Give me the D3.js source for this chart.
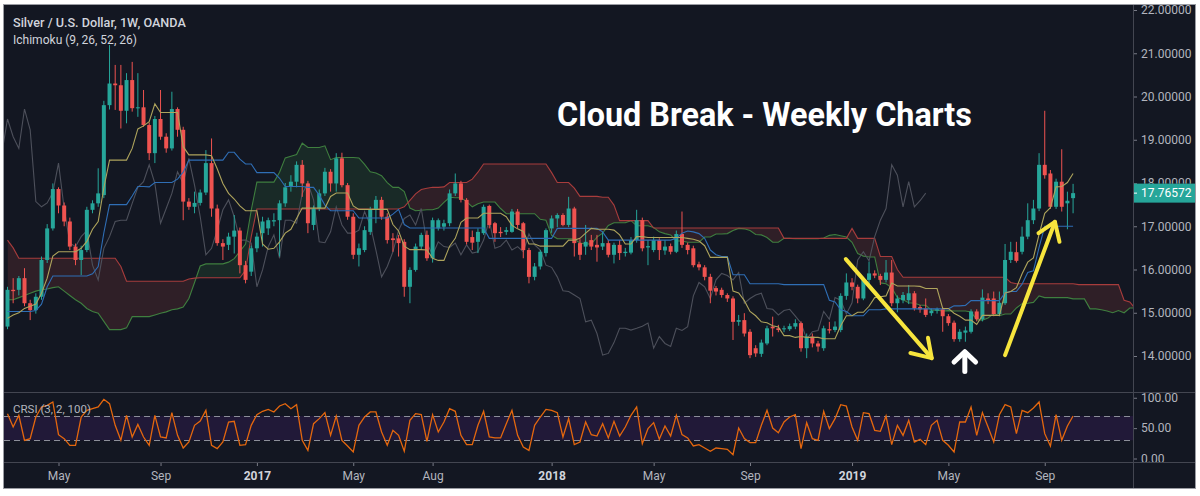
<!DOCTYPE html>
<html><head><meta charset="utf-8">
<script src="https://cdn.jsdelivr.net/npm/d3@7"></script>
<style>
html,body{margin:0;padding:0;background:#ffffff;}
svg{display:block;}
text{font-family:Roboto,"Noto Sans",sans-serif;}
</style></head>
<body>
<svg id="chart" width="1200" height="496"></svg>
<script>
// ---------------- data (weekly bars, Silver / USD, OANDA) ----------------
const firstWeek = "2016-02-29";
const open = [14.68,15.53,15.53,15.80,15.22,15.06,15.37,16.22,16.95,17.86,
17.48,17.11,16.53,16.22,16.45,17.38,17.53,17.72,19.80,20.30,
20.26,19.67,20.38,19.73,19.75,19.34,18.69,19.48,19.07,18.80,
19.71,19.23,17.57,17.45,17.54,17.78,18.46,17.41,16.61,16.57,
16.76,16.90,16.10,15.95,16.49,16.84,16.95,17.11,17.14,17.53,
17.92,18.03,18.42,17.99,17.03,17.41,17.76,18.26,17.99,18.57,
17.95,17.22,16.34,16.45,16.87,17.38,17.61,17.22,16.72,16.72,
16.64,15.60,15.99,16.53,16.80,16.26,16.95,16.99,17.07,17.76,
17.99,17.61,16.75,16.64,16.84,17.47,17.07,16.87,16.87,16.87,
17.34,17.07,16.45,15.83,16.07,16.38,16.95,17.18,17.26,17.03,
17.41,16.61,16.53,16.68,16.57,16.53,16.61,16.34,16.57,16.38,
16.39,16.68,17.14,16.51,16.45,16.68,16.44,16.54,16.41,16.82,
16.57,16.49,16.12,16.05,15.83,15.57,15.53,15.41,15.33,14.79,
14.83,14.56,14.18,14.05,14.29,14.68,14.64,14.62,14.62,14.68,
14.76,14.18,14.45,14.29,14.18,14.62,14.60,14.60,15.39,15.70,
15.60,15.33,15.76,15.91,15.85,15.76,15.93,15.22,15.29,15.29,
15.45,15.13,15.10,14.99,15.05,15.08,14.92,14.77,14.39,14.54,
14.56,15.03,14.85,15.33,15.33,14.97,15.22,16.22,16.40,16.41,
16.76,17.14,17.41,18.42,18.22,17.45,18.03,17.53,17.65];
const high = [15.60,15.80,15.85,16.03,15.30,15.45,16.30,17.05,17.99,17.90,
17.55,17.20,16.60,16.55,17.45,17.60,18.34,19.90,21.19,20.73,
20.73,20.54,20.80,20.54,20.15,19.40,19.55,20.15,19.15,20.11,
19.75,19.30,17.65,17.80,17.85,18.76,19.03,17.50,16.70,16.85,
17.26,16.97,16.20,16.55,16.85,17.22,17.20,17.30,17.60,18.00,
18.18,18.50,18.53,18.05,17.48,17.85,18.35,18.32,18.69,18.70,
18.00,17.30,16.60,17.00,17.45,17.70,17.68,17.30,16.84,16.80,
16.70,16.05,16.60,16.85,16.90,17.20,17.18,17.15,17.85,18.22,
18.05,17.65,16.90,16.95,17.50,17.50,17.10,16.98,16.98,17.40,
17.40,17.10,16.50,16.15,16.45,16.95,17.25,17.30,17.30,17.68,
17.45,16.70,17.03,16.80,16.80,16.87,16.68,16.62,16.68,16.50,
16.75,17.38,17.20,16.68,16.76,16.72,16.68,16.60,16.90,17.34,
16.62,16.55,16.18,16.10,15.90,15.62,15.58,15.45,15.38,14.95,
14.99,14.62,14.25,14.38,14.70,14.91,14.72,14.70,14.75,14.85,
14.80,14.52,14.52,14.35,14.70,14.79,14.80,15.45,15.91,15.80,
15.65,15.82,16.18,15.98,15.90,16.22,16.22,15.40,15.48,15.64,
15.50,15.18,15.33,15.10,15.12,15.12,14.97,14.82,14.62,14.68,
15.08,15.08,15.54,15.45,15.49,15.49,16.59,16.64,16.64,16.99,
17.53,17.61,18.69,19.67,18.30,18.10,18.78,17.80,17.98];
const low = [14.62,15.22,15.40,15.15,14.83,14.98,15.30,16.15,16.90,17.30,
17.00,16.45,16.10,15.87,16.40,17.30,17.45,17.65,19.70,19.69,
19.26,19.38,19.65,19.53,19.30,18.53,18.46,19.00,18.70,18.75,
19.07,17.14,17.38,17.30,17.48,17.72,17.22,16.55,16.22,16.45,
16.37,15.91,15.68,15.85,16.40,16.53,16.80,17.00,16.30,17.45,
17.80,17.90,17.68,16.84,16.91,17.35,17.70,17.80,17.80,17.90,
17.15,16.24,16.07,16.40,16.80,17.07,17.15,16.60,16.41,16.30,
15.37,15.22,15.95,16.45,16.20,16.16,16.90,16.90,17.00,17.70,
17.55,16.58,16.45,16.38,16.80,16.95,16.64,16.75,16.80,16.85,
16.95,16.26,15.68,15.75,16.00,16.30,16.85,16.98,17.00,16.98,
16.30,16.22,16.34,16.45,16.18,16.45,16.28,16.14,16.22,16.30,
16.35,16.62,16.42,16.10,16.40,16.22,16.34,16.35,16.38,16.50,
16.35,16.05,15.98,15.75,15.22,15.40,15.35,15.25,14.37,14.70,
14.45,13.95,13.98,13.98,14.25,14.45,14.55,14.55,14.58,14.62,
14.10,13.95,14.20,14.10,14.12,14.52,14.55,14.55,15.30,15.52,
15.22,15.29,15.64,15.80,15.64,15.70,15.15,15.01,15.22,15.20,
15.05,15.00,14.90,14.93,14.98,14.56,14.70,14.33,14.33,14.33,
14.52,14.80,14.80,15.20,14.92,14.92,15.18,16.15,16.16,16.35,
16.70,17.05,17.35,18.10,17.40,17.40,17.34,16.93,17.30];
const close = [15.53,15.50,15.80,15.22,15.06,15.37,16.22,16.95,17.86,17.48,
17.11,16.53,16.22,16.45,17.38,17.53,17.76,19.80,20.30,20.26,
19.67,20.38,19.73,19.75,19.34,18.69,19.48,19.07,18.80,19.71,
19.23,17.57,17.45,17.54,17.78,18.46,17.41,16.61,16.53,16.76,
16.90,16.10,15.76,16.49,16.76,17.11,17.14,17.14,17.53,17.90,
18.03,18.42,17.99,17.07,17.41,17.76,18.26,17.99,18.57,17.95,
17.22,16.34,16.49,16.91,17.38,17.61,17.22,16.68,16.68,16.61,
15.60,15.99,16.53,16.80,16.26,17.14,17.14,17.07,17.76,17.99,
17.61,16.64,16.62,16.87,17.45,17.03,16.84,16.84,16.91,17.34,
17.03,16.45,15.83,16.07,16.41,16.91,17.18,17.26,17.03,17.41,
16.61,16.34,16.64,16.53,16.51,16.61,16.34,16.57,16.38,16.41,
16.68,17.14,16.49,16.54,16.68,16.45,16.53,16.41,16.82,16.57,
16.45,16.10,16.05,15.83,15.51,15.49,15.41,15.33,14.79,14.83,
14.52,14.02,14.06,14.31,14.64,14.64,14.60,14.64,14.69,14.76,
14.18,14.45,14.29,14.22,14.64,14.59,14.68,15.39,15.70,15.60,
15.33,15.76,15.91,15.86,15.76,15.93,15.22,15.33,15.41,15.45,
15.10,15.08,14.95,15.05,15.08,14.92,14.76,14.39,14.56,14.59,
15.03,14.85,15.35,15.29,14.97,15.23,16.22,16.41,16.20,16.76,
17.14,17.41,18.42,18.18,17.45,18.03,17.45,17.59,17.76572];
// Ichimoku lines (one value per weekly bar)
const tenkan = [14.87,14.95,15.00,15.10,15.15,15.20,15.45,15.80,
16.31,16.41,16.41,16.41,16.41,16.49,16.65,16.93,17.11,17.89,
18.53,18.53,18.53,18.53,18.80,19.25,19.32,19.42,19.83,19.63,
19.63,19.63,19.63,18.84,18.65,18.65,18.65,18.65,18.63,18.33,
17.99,17.76,17.63,17.47,17.36,17.36,17.36,16.59,16.47,16.49,
16.64,16.84,16.93,17.18,17.42,17.42,17.42,17.42,17.42,17.69,
17.77,17.77,17.77,17.47,17.39,17.39,17.39,17.39,17.39,17.39,
17.04,16.89,16.54,16.46,16.46,16.46,16.45,16.26,16.21,16.21,
16.54,16.72,17.09,17.19,17.19,17.19,17.30,17.30,17.30,17.30,
17.22,17.02,16.94,16.88,16.59,16.59,16.54,16.54,16.54,16.54,
16.54,16.68,16.68,16.72,16.84,16.95,16.93,16.93,16.93,16.91,
16.80,16.59,16.59,16.76,16.76,16.74,16.74,16.74,16.74,16.74,
16.74,16.74,16.72,16.70,16.66,16.55,16.28,16.28,16.28,16.28,
15.50,15.46,15.28,15.03,14.93,14.79,14.77,14.70,14.67,14.47,
14.47,14.43,14.45,14.43,14.43,14.43,14.40,14.40,14.40,14.70,
14.93,14.93,15.01,15.01,15.15,15.35,15.37,15.39,15.69,15.62,
15.62,15.62,15.62,15.61,15.56,15.56,15.56,15.10,15.10,14.99,
14.92,14.83,14.83,14.73,14.94,14.94,14.94,14.94,15.46,15.49,
15.58,15.90,16.17,16.27,16.81,17.30,17.43,17.91,17.92,18.01,18.22];
const kijun = [15.03,15.03,15.03,15.03,15.03,15.05,15.20,15.60,15.85,15.85,
15.85,15.85,15.85,15.85,15.85,15.90,16.07,16.85,17.50,17.50,
17.50,17.50,17.70,17.92,17.92,17.91,18.01,18.01,18.01,18.01,
18.09,18.25,18.53,18.53,18.53,18.53,18.53,18.53,18.53,18.71,
18.71,18.55,18.44,18.44,18.24,18.24,18.24,18.24,18.11,17.92,
17.92,17.92,17.92,17.90,17.90,17.72,17.49,17.36,17.36,17.36,
17.36,17.36,17.19,17.19,17.19,17.19,17.19,17.19,17.28,17.39,
17.04,16.96,16.96,16.96,16.96,16.96,16.96,16.96,16.96,16.96,
16.96,16.96,16.96,16.96,16.96,16.72,16.72,16.72,16.72,16.72,
16.72,16.72,16.72,16.72,16.72,16.72,16.72,16.95,16.95,16.95,
16.95,16.95,16.95,16.95,16.95,16.87,16.68,16.68,16.68,16.68,
16.68,16.68,16.68,16.68,16.68,16.68,16.68,16.68,16.72,16.84,
16.89,16.87,16.83,16.72,16.45,16.34,16.30,16.30,15.88,15.88,
15.88,15.67,15.67,15.67,15.67,15.67,15.67,15.65,15.65,15.65,
15.65,15.65,15.65,15.65,15.65,15.29,15.25,15.07,15.03,14.93,
14.93,14.93,15.07,15.07,15.07,15.09,15.09,15.09,15.09,15.09,
15.09,15.09,15.09,15.09,15.09,15.09,15.09,15.16,15.16,15.17,
15.28,15.28,15.28,15.28,15.28,15.28,15.46,15.49,15.49,15.66,
15.93,15.97,16.51,17.00,17.00,17.00,17.00,17.00,17.00];
// leading spans, already displaced 26 weeks forward (index = bar position)
const spanA = [15.30,15.30,15.35,15.40,15.45,15.50,15.53,15.55,15.58,15.60,
15.50,15.40,15.30,15.22,15.10,15.03,14.99,14.80,14.61,14.61,
14.61,14.65,14.91,14.91,14.91,14.91,14.95,14.99,15.02,15.07,
15.09,15.13,15.33,15.70,16.08,16.13,16.13,16.13,16.13,16.17,
16.25,16.42,16.59,17.37,18.02,18.02,18.02,18.02,18.25,18.58,
18.62,18.66,18.92,18.82,18.82,18.82,18.86,18.54,18.59,18.59,
18.59,18.59,18.58,18.43,18.26,18.23,18.17,18.01,17.90,17.90,
17.80,17.42,17.36,17.37,17.38,17.38,17.42,17.55,17.67,17.66,
17.66,17.57,17.45,17.52,17.56,17.56,17.56,17.41,17.29,17.29,
17.29,17.29,17.29,17.29,17.16,17.14,16.79,16.71,16.71,16.71,
16.71,16.61,16.59,16.59,16.75,16.84,17.02,17.08,17.08,17.08,
17.13,17.01,17.01,17.01,16.97,16.87,16.83,16.80,16.66,16.66,
16.63,16.63,16.63,16.75,16.75,16.82,16.82,16.83,16.90,16.95,
16.94,16.90,16.81,16.80,16.74,16.63,16.63,16.72,16.72,16.71,
16.71,16.71,16.71,16.71,16.73,16.79,16.81,16.78,16.75,16.63,
16.37,16.31,16.29,16.29,15.69,15.67,15.58,15.35,15.30,15.23,
15.22,15.18,15.17,15.06,15.06,15.04,15.05,15.04,15.04,15.04,
15.02,14.84,14.83,14.88,14.98,14.93,14.97,14.97,15.11,15.21,
15.22,15.24,15.39,15.35,15.35,15.35,15.35,15.35,15.32,15.32,
15.32,15.09,15.09,15.07,15.04,15.00,15.05,15.00,15.11,15.11];
const spanB = [16.68,16.50,16.26,16.26,16.26,16.26,16.26,16.26,16.26,16.26,
16.26,16.26,16.26,16.26,16.26,16.26,16.26,16.26,16.26,16.26,
16.07,15.73,15.73,15.73,15.73,15.73,15.73,15.73,15.73,15.73,
15.73,15.73,15.78,15.80,15.81,15.81,15.81,15.81,15.81,15.81,
15.81,15.81,15.98,16.76,17.40,17.40,17.40,17.40,17.40,17.40,
17.40,17.40,17.40,17.40,17.40,17.40,17.40,17.40,17.40,17.40,
17.40,17.40,17.40,17.40,17.40,17.40,17.40,17.40,17.40,17.40,
17.45,17.60,17.75,17.85,17.88,17.90,17.90,17.91,18.01,18.01,
18.01,18.01,18.09,18.25,18.44,18.44,18.44,18.44,18.44,18.44,
18.44,18.44,18.44,18.44,18.44,18.44,18.24,18.01,18.01,18.01,
17.88,17.69,17.69,17.69,17.69,17.67,17.67,17.49,17.13,17.13,
17.13,17.13,17.13,17.13,16.96,16.96,16.96,16.96,16.96,16.96,
16.96,16.96,16.96,16.96,16.96,16.96,16.96,16.96,16.96,16.96,
16.96,16.96,16.96,16.96,16.96,16.96,16.96,16.72,16.72,16.72,
16.72,16.72,16.72,16.72,16.72,16.72,16.72,16.72,16.72,16.95,
16.72,16.72,16.72,16.72,16.30,16.30,16.30,16.00,15.82,15.82,
15.82,15.82,15.82,15.82,15.82,15.82,15.82,15.82,15.82,15.82,
15.82,15.82,15.82,15.82,15.82,15.82,15.82,15.70,15.67,15.67,
15.67,15.67,15.67,15.67,15.67,15.67,15.67,15.67,15.67,15.65,
15.65,15.65,15.65,15.65,15.65,15.65,15.65,15.29,15.25,15.09];
const crsi = [73.8,51.9,71.1,29.9,32.7,68.3,84.8,87.5,93.0,39.2,
32.7,21.7,21.7,68.3,79.3,82.0,84.8,97.4,90.3,54.6,
29.9,71.1,35.4,56.2,35.4,21.7,71.1,35.4,33.8,75.5,
38.1,17.3,27.2,54.6,61.7,79.3,21.7,16.2,27.2,60.1,
61.2,21.7,22.8,54.6,72.2,77.7,80.9,76.6,86.4,90.3,
82.0,88.6,29.9,13.4,57.3,65.6,75.5,38.1,70.0,29.9,
20.6,10.7,54.6,68.3,76.6,76.6,43.6,21.7,46.4,38.1,
11.8,62.8,73.8,72.2,28.3,72.2,43.6,60.1,82.0,77.7,
38.1,22.8,22.8,54.6,77.7,35.4,33.8,33.8,57.3,79.3,
38.1,19.0,13.4,54.6,68.3,80.9,79.3,75.5,35.4,65.6,
22.8,27.2,60.1,39.2,37.0,57.3,33.8,61.2,37.0,51.9,
71.1,84.8,24.4,49.1,59.0,31.6,53.5,37.0,71.1,39.2,
33.8,20.6,22.8,17.3,11.8,17.3,16.2,15.1,6.3,50.2,
32.7,26.1,26.1,54.6,79.3,50.2,42.5,60.1,68.3,72.2,
16.2,59.0,32.7,29.9,77.7,49.1,65.6,88.6,86.4,51.9,
29.9,75.5,73.8,46.4,44.7,70.0,22.8,54.6,38.1,62.8,
27.2,31.6,22.8,54.6,62.8,29.9,21.7,10.7,60.1,60.1,
84.8,38.1,75.5,51.9,27.2,72.2,88.6,84.8,40.9,79.3,
75.5,83.1,93.0,40.9,20.6,72.2,29.9,53.5,70.0];
const chikouShift = 26;
const priceTicks = [14,15,16,17,18,19,20,21,22];
const crsiTicks = [0,50,100];
const crsiBand = [30,70];
const timeTickDates = ["2016-05-02","2016-09-05","2017-01-02","2017-05-01","2017-08-07","2018-01-01","2018-05-07","2018-09-03","2019-01-07","2019-05-06","2019-09-02"];
const timeTickLabels = ["May","Sep","2017","May","Aug","2018","May","Sep","2019","May","Sep"];
const lastPrice = 17.76572;
const titleText = "Cloud Break - Weekly Charts";
const legendMain = "Silver / U.S. Dollar, 1W, OANDA";
const legendIchi = "Ichimoku (9, 26, 52, 26)";
const legendCrsi = "CRSI (3, 2, 100)";
// annotation arrows, in [bar index, price]
const arrowDownShaft = [[147.9,16.24],[163.06,13.95]];
const arrowDownHead = [[162.4,14.42],[163.06,13.95],[159.3,14.07]];
const arrowUpShaft = [[176.0,14.02],[184.8,17.10]];
const arrowUpHead = [[181.9,16.84],[184.8,17.10],[185.6,16.64]];
const whiteShaft = [[168.9,13.64],[168.9,14.08]];
const whiteHead = [[167.0,13.86],[168.9,14.10],[170.8,13.86]];

// ---------------- layout & scales ----------------
const W = 1200, H = 496;
const frame = {x0: 4, y0: 5, x1: 1195, y1: 488};
const plotRight = 1133;
const priceBottom = 392, crsiBottom = 462;
const barStep = 5.668, firstX = 7.5;
const DAY = 864e5;
const t0 = new Date(firstWeek + "T00:00:00Z").getTime();
const dateAt = i => new Date(t0 + i * 7 * DAY);
const nBars = close.length;
const x = d3.scaleUtc().domain([dateAt(0), dateAt(nBars - 1)])
  .range([firstX, firstX + (nBars - 1) * barStep]);
const y = d3.scaleLinear().domain([14, 22]).range([356, 10]);
const yC = d3.scaleLinear().domain([0, 100]).range([458.5, 397.75]);
const xi = i => x(dateAt(i));

const C = {
  bg: "#131722", up: "#26a69a", down: "#ef5350", text: "#b2b5be", legend: "#d1d4dc",
  border: "#434651", tenkan: "#aea45c", kijun: "#2f6eb5", chikou: "#4d505b",
  spanA: "#3f7f3f", spanB: "#a83c3c", fillG: "rgba(67,160,71,0.14)", fillR: "rgba(239,83,80,0.13)",
  crsi: "#e4670e", band: "#211938", dash: "#8c8f99", arrow: "#f7e53d"
};

const svg = d3.select("#chart");
svg.append("rect").attr("width", W).attr("height", H).attr("fill", "#ffffff");
svg.append("rect").attr("x", frame.x0).attr("y", frame.y0)
  .attr("width", frame.x1 - frame.x0).attr("height", frame.y1 - frame.y0).attr("fill", C.bg);

const yl = y(lastPrice);
const tagTop = yl - 9.5, tagH = 19;

const defs = svg.append("defs");
defs.append("clipPath").attr("id", "clipPrice").append("rect")
  .attr("x", frame.x0).attr("y", frame.y0).attr("width", plotRight - frame.x0).attr("height", priceBottom - frame.y0);
defs.append("clipPath").attr("id", "clipCrsi").append("rect")
  .attr("x", frame.x0).attr("y", priceBottom + 1).attr("width", plotRight - frame.x0).attr("height", crsiBottom - priceBottom - 1);
// price scale labels are hidden where the last-price tag sits
const cpa = defs.append("clipPath").attr("id", "clipPriceAxis");
cpa.append("rect").attr("x", plotRight).attr("y", frame.y0).attr("width", frame.x1 - plotRight).attr("height", tagTop - frame.y0);
cpa.append("rect").attr("x", plotRight).attr("y", tagTop + tagH).attr("width", frame.x1 - plotRight).attr("height", priceBottom - tagTop - tagH);
defs.append("clipPath").attr("id", "clipCrsiAxis").append("rect")
  .attr("x", plotRight).attr("y", priceBottom + 1).attr("width", frame.x1 - plotRight).attr("height", crsiBottom - priceBottom - 1);

const idxCloud = d3.range(spanA.length);
defs.append("clipPath").attr("id", "aboveB").append("path")
  .attr("d", d3.area().x(xi).y0(0).y1(i => y(spanB[i]))(idxCloud));
defs.append("clipPath").attr("id", "belowB").append("path")
  .attr("d", d3.area().x(xi).y0(i => y(spanB[i])).y1(H)(idxCloud));

// ---------------- price pane ----------------
const gP = svg.append("g").attr("clip-path", "url(#clipPrice)");
const between = d3.area().x(xi).y0(i => y(spanA[i])).y1(i => y(spanB[i]));
gP.append("g").attr("clip-path", "url(#aboveB)").append("path").attr("d", between(idxCloud)).attr("fill", C.fillG);
gP.append("g").attr("clip-path", "url(#belowB)").append("path").attr("d", between(idxCloud)).attr("fill", C.fillR);
const lineOf = arr => d3.line().x((d, i) => xi(i)).y(d => y(d));
gP.append("path").attr("d", lineOf(spanA)(spanA)).attr("fill", "none").attr("stroke", C.spanA).attr("stroke-width", 1.1);
gP.append("path").attr("d", lineOf(spanB)(spanB)).attr("fill", "none").attr("stroke", C.spanB).attr("stroke-width", 1.1);
// lagging span: closes shown 26 weeks back
gP.append("path").attr("d", d3.line().x((d, i) => xi(i - chikouShift)).y(d => y(d))(close))
  .attr("fill", "none").attr("stroke", C.chikou).attr("stroke-width", 1.1);

// candles
const bars = gP.append("g").selectAll("g").data(d3.range(nBars)).join("g");
bars.append("line")
  .attr("x1", i => xi(i)).attr("x2", i => xi(i))
  .attr("y1", i => y(high[i])).attr("y2", i => y(low[i]))
  .attr("stroke", i => close[i] >= open[i] ? C.up : C.down).attr("stroke-width", 1);
bars.append("rect")
  .attr("x", i => xi(i) - 2).attr("width", 4)
  .attr("y", i => y(Math.max(open[i], close[i])))
  .attr("height", i => Math.max(1, Math.abs(y(open[i]) - y(close[i]))))
  .attr("fill", i => close[i] >= open[i] ? C.up : C.down);

gP.append("path").attr("d", lineOf(kijun)(kijun)).attr("fill", "none").attr("stroke", C.kijun).attr("stroke-width", 1.1);
gP.append("path").attr("d", lineOf(tenkan)(tenkan)).attr("fill", "none").attr("stroke", C.tenkan).attr("stroke-width", 1.1);

// annotations
const ptLine = d3.line().x(d => xi(d[0])).y(d => y(d[1]));
[arrowDownShaft, arrowDownHead, arrowUpShaft, arrowUpHead].forEach(p => {
  gP.append("path").attr("d", ptLine(p)).attr("fill", "none").attr("stroke", C.arrow)
    .attr("stroke-width", 4).attr("stroke-linecap", "round").attr("stroke-linejoin", "round");
});
[whiteShaft, whiteHead].forEach(p => {
  gP.append("path").attr("d", ptLine(p)).attr("fill", "none").attr("stroke", "#ffffff")
    .attr("stroke-width", 5).attr("stroke-linecap", "round").attr("stroke-linejoin", "round");
});

// text helper to fit a width
function fit(sel, width) {
  const n = sel.node(); const w = n.getComputedTextLength();
  const fs = parseFloat(sel.attr("font-size"));
  if (w > 0) sel.attr("font-size", (fs * width / w).toFixed(2));
}
const tTitle = svg.append("text").attr("x", 557).attr("y", 126).attr("fill", "#ffffff")
  .attr("font-family", "'Liberation Sans', Arial, sans-serif").attr("font-weight", "bold")
  .attr("font-size", 29).text(titleText);
fit(tTitle, 415);
const tL1 = svg.append("text").attr("x", 13).attr("y", 26.5).attr("fill", C.legend)
  .attr("font-weight", 500).attr("font-size", 12).text(legendMain);
fit(tL1, 173);
const tL2 = svg.append("text").attr("x", 13).attr("y", 43.5).attr("fill", C.legend)
  .attr("font-size", 12).text(legendIchi);
fit(tL2, 124);

// ---------------- CRSI pane ----------------
const gC = svg.append("g").attr("clip-path", "url(#clipCrsi)");
gC.append("rect").attr("x", frame.x0).attr("width", plotRight - frame.x0)
  .attr("y", yC(crsiBand[1])).attr("height", yC(crsiBand[0]) - yC(crsiBand[1])).attr("fill", C.band);
crsiBand.forEach(v => gC.append("line").attr("x1", frame.x0).attr("x2", plotRight)
  .attr("y1", Math.round(yC(v)) + 0.5).attr("y2", Math.round(yC(v)) + 0.5)
  .attr("stroke", C.dash).attr("stroke-dasharray", "6,4"));
gC.append("path").attr("d", d3.line().x((d, i) => xi(i)).y(d => yC(d))(crsi))
  .attr("fill", "none").attr("stroke", C.crsi).attr("stroke-width", 1.3);
const tC = svg.append("text").attr("x", 13).attr("y", 413).attr("fill", C.text)
  .attr("font-size", 12).text(legendCrsi);
fit(tC, 78);

// ---------------- axes ----------------
const axPrice = svg.append("g").attr("clip-path", "url(#clipPriceAxis)")
  .append("g").attr("transform", `translate(${plotRight},0)`)
  .call(d3.axisRight(y).tickValues(priceTicks.filter(v => Math.abs(y(v) - yl) > 12)).tickFormat(d3.format(".5f")).tickSize(4).tickPadding(4));
// the price-scale label that is almost covered by the last-price tag: only its top sliver shows
svg.append("g").attr("clip-path", "url(#clipPriceAxis)")
  .append("g").attr("transform", `translate(${plotRight},0)`).attr("class", "hiddenTick")
  .call(d3.axisRight(y).tickValues(priceTicks.filter(v => Math.abs(y(v) - yl) <= 12)).tickFormat(d3.format(".5f")).tickSize(4).tickPadding(4))
  .call(g => { g.select(".domain").remove(); g.selectAll(".tick line").attr("stroke", "#787b86");
    g.selectAll(".tick text").attr("fill", C.text).attr("font-size", 12).attr("font-family", "Roboto, 'Noto Sans', sans-serif"); });
const axCrsi = svg.append("g").attr("clip-path", "url(#clipCrsiAxis)")
  .append("g").attr("transform", `translate(${plotRight},0)`)
  .call(d3.axisRight(yC).tickValues(crsiTicks).tickFormat(d3.format(".2f")).tickSize(4).tickPadding(4));
const tickDates = timeTickDates.map(s => new Date(s + "T00:00:00Z"));
const axTime = svg.append("g").attr("transform", `translate(0,${crsiBottom})`)
  .call(d3.axisBottom(x).tickValues(tickDates).tickFormat((d, i) => timeTickLabels[i]).tickSize(4).tickPadding(5));
[axPrice, axCrsi, axTime].forEach(a => {
  a.select(".domain").remove();
  a.selectAll(".tick line").attr("stroke", "#787b86");
  a.selectAll(".tick text").attr("fill", C.text).attr("font-size", 12)
    .attr("font-family", "Roboto, 'Noto Sans', sans-serif");
});
axTime.selectAll(".tick text").attr("font-weight", (d, i) => /^\d{4}$/.test(timeTickLabels[i]) ? "bold" : "normal")
  .attr("fill", (d, i) => /^\d{4}$/.test(timeTickLabels[i]) ? C.legend : C.text);

// last price tag
svg.append("rect").attr("x", plotRight).attr("y", tagTop).attr("width", frame.x1 - plotRight).attr("height", tagH).attr("fill", C.up);
svg.append("line").attr("x1", plotRight).attr("x2", plotRight + 4).attr("y1", yl).attr("y2", yl).attr("stroke", "#ffffff");
svg.append("text").attr("x", plotRight + 8).attr("y", yl + 4.3).attr("fill", "#ffffff").attr("font-size", 12)
  .text(d3.format(".5f")(lastPrice));

// separators and frame
const sep = svg.append("g").attr("stroke", C.border).attr("stroke-width", 1);
sep.append("line").attr("x1", plotRight + 0.5).attr("x2", plotRight + 0.5).attr("y1", frame.y0).attr("y2", frame.y1);
sep.append("line").attr("x1", frame.x0).attr("x2", frame.x1).attr("y1", priceBottom + 0.5).attr("y2", priceBottom + 0.5);
sep.append("line").attr("x1", frame.x0).attr("x2", frame.x1).attr("y1", crsiBottom + 0.5).attr("y2", crsiBottom + 0.5);
svg.append("rect").attr("x", frame.x0 - 0.5).attr("y", frame.y0 - 0.5)
  .attr("width", frame.x1 - frame.x0 + 1).attr("height", frame.y1 - frame.y0 + 1)
  .attr("fill", "none").attr("stroke", "#9a9ca3");
</script>
</body></html>
